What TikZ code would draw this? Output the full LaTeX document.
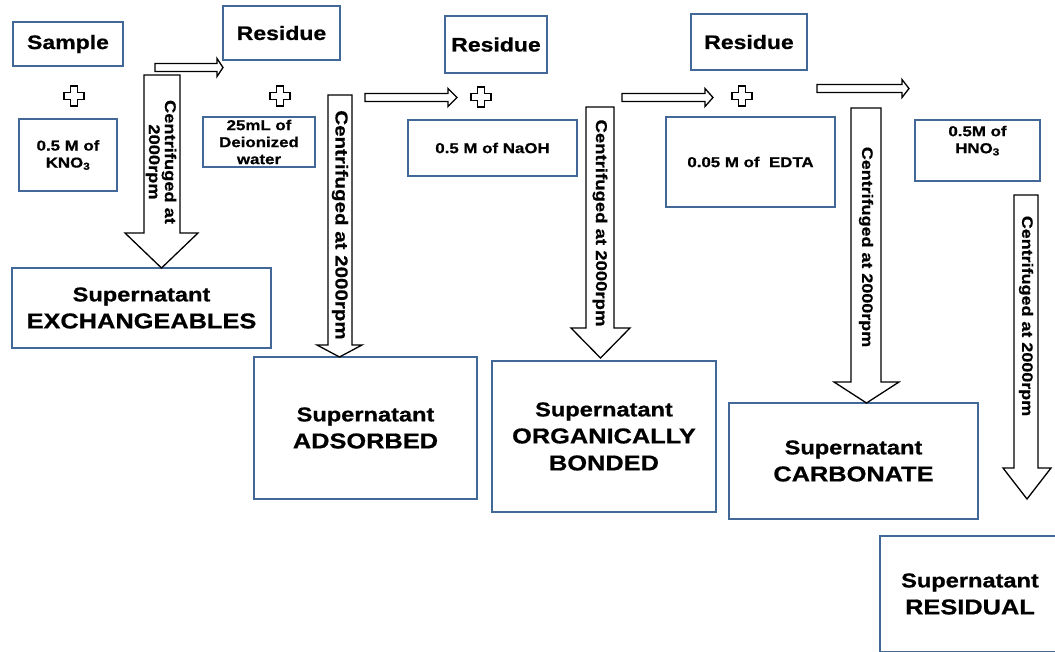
\documentclass[tikz,border=0pt]{standalone}
\usepackage{fontspec}
\setmainfont{Liberation Sans}[FakeStretch=1.18, BoldFeatures={FakeBold=0.7}]
\usepackage{tikz}
\tikzset{>=latex}
\usetikzlibrary{calc}
\definecolor{frame}{RGB}{66,104,152}
\tikzset{
    box/.style = {draw = frame, line width = 1.3pt, fill = white, align = center, inner sep = 0pt},
    title/.style = {box, font = \fontsize{19.5}{23}\selectfont\bfseries},
    reagent/.style = {box, font = \fontsize{14.3}{17}\selectfont\bfseries},
    result/.style = {box, font = \fontsize{21.5}{27}\selectfont\bfseries},
    blockarrow/.style = {draw = black, line width = 1.3pt, fill = white, line join = miter},
    spintext/.style = {rotate = -90, align = center, inner sep = 0pt, font = \fontsize{15.5}{16}\selectfont\bfseries}
}

\begin{document}
\begin{tikzpicture}[x = 1pt, y = -1pt]
            \useasboundingbox (0, 0) rectangle (1055, 651);
            \node[title, minimum width = 110, minimum height = 44] (sample) at (68, 44) {Sample};
            \node[title, minimum width = 117, minimum height = 54] (res1) at (281.5, 33) {Residue};
            \node[title, minimum width = 102, minimum height = 57] (res2) at (496, 44.5) {Residue};
            \node[title, minimum width = 116, minimum height = 56] (res3) at (749, 42) {Residue};
            \node[reagent, minimum width = 98, minimum height = 72] (kno) at (68, 155) {0.5 M of\\KNO\textsubscript{3}};
            \node[reagent, minimum width = 112, minimum height = 50] (water) at (259, 142) {25mL of\\Deionized\\water};
            \node[reagent, minimum width = 169, minimum height = 56] (naoh) at (492.5, 148) {0.5 M of NaOH};
            \node[reagent, minimum width = 169, minimum height = 90] (edta) at (750.5, 162) {0.05 M of~~EDTA};
            \node[reagent, minimum width = 125, minimum height = 61, text depth = 22pt] (hno) at (977.5, 150.5) {0.5M of\\HNO\textsubscript{3}};
            \node[result, minimum width = 259, minimum height = 80] (exch) at (141.5, 308) {{\fontsize{20}{24}\selectfont Supernatant}\\EXCHANGEABLES};
            \node[result, minimum width = 223, minimum height = 142] (ads) at (365.5, 428) {{\fontsize{20}{24}\selectfont Supernatant}\\ADSORBED};
            \node[result, minimum width = 224, minimum height = 151] (org) at (604, 436.5) {{\fontsize{20}{24}\selectfont Supernatant}\\ORGANICALLY\\BONDED};
            \node[result, minimum width = 249, minimum height = 116] (carb) at (853.5, 461) {{\fontsize{20}{24}\selectfont Supernatant}\\CARBONATE};
            \node[result, minimum width = 180, minimum height = 116] (resid) at (970, 594) {{\fontsize{20}{24}\selectfont Supernatant}\\RESIDUAL};
            \foreach \cx/\cy in {74/96, 280/96, 481/97, 742/96} {
                \draw[blockarrow] (\cx - 3.5, \cy - 10) -- ++(7, 0) -- ++(0, 6.5) -- ++(6.5, 0) -- ++(0, 7) -- ++(-6.5, 0) -- ++(0, 6.5) -- ++(-7, 0) -- ++(0, -6.5) -- ++(-6.5, 0) -- ++(0, -7) -- ++(6.5, 0) -- cycle;
            }
            \foreach \xa/\xb/\xc/\yc in {155/217/223/67.5, 365/448/457/97.5, 622/705/713/97.5, 817/902/909/88.5} {
                \draw[blockarrow] (\xa, \yc - 4) -- (\xb, \yc - 4) -- (\xb, \yc - 9) -- (\xc, \yc) -- (\xb, \yc + 9) -- (\xb, \yc + 4) -- (\xa, \yc + 4) -- cycle;
            }
            \foreach \xl/\xr/\yt/\yh/\hl/\hr/\yb in {144/180/75/233/125/198/268, 328/352/95/345/317/362/357, 586/614/107/328/571/630/358, 851/881/108/382/834/899/403, 1014/1038/195/468/1003/1051/499} {
                \draw[blockarrow] (\xl, \yt) -- (\xr, \yt) -- (\xr, \yh) -- (\hr, \yh) -- ({(\hl + \hr) / 2}, \yb) -- (\hl, \yh) -- (\xl, \yh) -- cycle;
            }
            \node[spintext] (spin1) at (161, 162) {Centrifuged at\\2000rpm};
            \node[spintext, font = \fontsize{17.4}{18}\selectfont\bfseries] (spin2) at (340, 225) {Centrifuged at 2000rpm};
            \node[spintext, font = \fontsize{15.7}{16}\selectfont\bfseries] (spin3) at (600, 223) {Centrifuged at 2000rpm};
            \node[spintext, font = \fontsize{15.2}{16}\selectfont\bfseries] (spin4) at (866, 247) {Centrifuged at 2000rpm};
            \node[spintext, font = \fontsize{15.2}{16}\selectfont\bfseries] (spin5) at (1026, 316) {Centrifuged at 2000rpm};
        \end{tikzpicture}
\end{document}
